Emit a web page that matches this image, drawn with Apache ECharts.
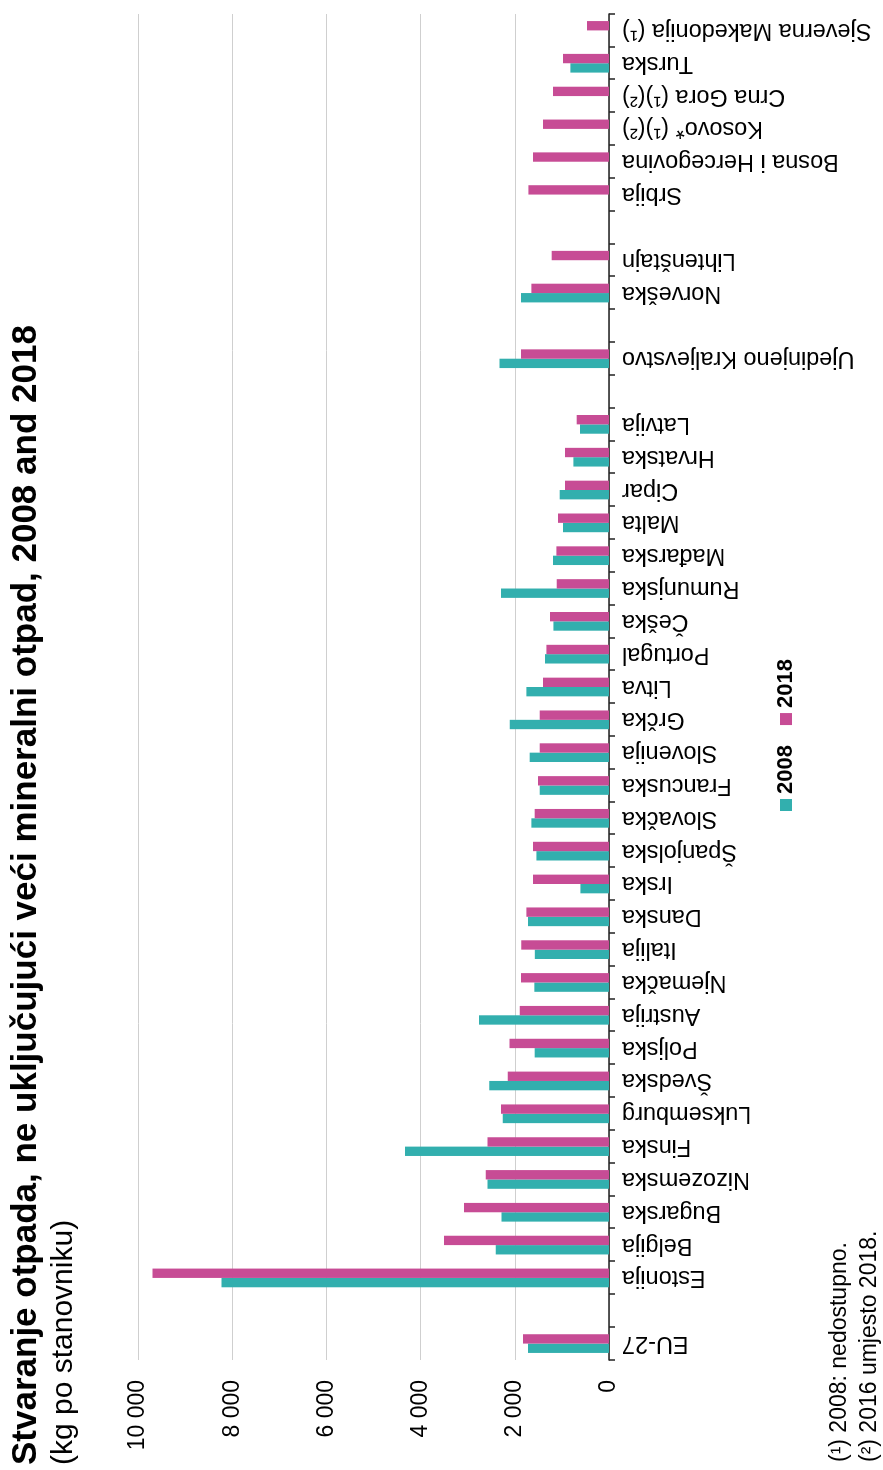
<!DOCTYPE html>
<html><head><meta charset="utf-8">
<script src="https://cdn.jsdelivr.net/npm/echarts/dist/echarts.min.js"></script>
<style>
html,body{margin:0;padding:0;width:883px;height:1470px;overflow:hidden;background:#fff}
#wrap{position:absolute;left:0;top:0;width:1470px;height:883px;transform-origin:0 0;transform:translateY(1470px) rotate(-90deg);}
#chart{width:1470px;height:883px}
</style></head><body><div id="wrap"><div id="chart"></div></div>
<script>
var categories = ['EU-27', ' ', 'Estonija', 'Belgija', 'Bugarska', 'Nizozemska', 'Finska', 'Luksemburg', 'Švedska', 'Poljska', 'Austrija', 'Njemačka', 'Italija', 'Danska', 'Irska', 'Španjolska', 'Slovačka', 'Francuska', 'Slovenija', 'Grčka', 'Litva', 'Portugal', 'Češka', 'Rumunjska', 'Mađarska', 'Malta', 'Cipar', 'Hrvatska', 'Latvija', '  ', 'Ujedinjeno Kraljevstvo', '   ', 'Norveška', 'Lihtenštajn', '    ', 'Srbija', 'Bosna i Hercegovina', 'Kosovo* (¹)(²)', 'Crna Gora (¹)(²)', 'Turska', 'Sjeverna Makedonija (¹)'];
var values2008 = [1720, '-', 8229, 2405, 2285, 2582, 4331, 2257, 2540, 1578, 2760, 1585, 1575, 1720, 607, 1541, 1648, 1471, 1684, 2108, 1754, 1359, 1180, 2293, 1189, 977, 1047, 756, 616, '-', 2327, '-', 1868, '-', '-', '-', '-', '-', '-', 820, '-'];
var values2018 = [1826, '-', 9694, 3503, 3078, 2618, 2582, 2293, 2151, 2115, 1896, 1868, 1865, 1754, 1614, 1614, 1578, 1507, 1471, 1471, 1401, 1329, 1253, 1110, 1117, 1083, 934, 934, 686, '-', 1868, '-', 1648, 1217, '-', 1711, 1614, 1401, 1189, 977, 467];
var seriesNames = ['2008', '2018'];
var titleText = 'Stvaranje otpada, ne uključujući veći mineralni otpad, 2008 and 2018';
var subtitleText = '(kg po stanovniku)';
var footnoteText = '(¹) 2008: nedostupno.\n(²) 2016 umjesto 2018.';

var FONT = '"Liberation Sans", Arial, sans-serif';
var chart = echarts.init(document.getElementById('chart'), null, {renderer: 'canvas'});
chart.setOption({
  animation: false,
  backgroundColor: '#fff',
  textStyle: {fontFamily: FONT},
  title: [
    {text: titleText, left: 5, top: 9, padding: 0,
     textStyle: {fontFamily: FONT, fontSize: 35, fontWeight: 'bold', color: '#000'}},
    {text: subtitleText, left: 5, top: 49, padding: 0,
     textStyle: {fontFamily: FONT, fontSize: 30, fontWeight: 'normal', color: '#000'}},
    {text: footnoteText, left: 8, top: 825, padding: 0,
     textStyle: {fontFamily: FONT, fontSize: 23, lineHeight: 30, fontWeight: 'normal', color: '#000'}}
  ],
  legend: {
    data: seriesNames, left: 659, top: 775, padding: 0,
    itemWidth: 12, itemHeight: 12, itemGap: 20, icon: 'rect',
    textStyle: {fontFamily: FONT, fontSize: 22, fontWeight: 'bold', color: '#000'}
  },
  grid: {left: 110, right: 14, top: 138, bottom: 274, containLabel: false, outerBoundsMode: 'none'},
  xAxis: {
    type: 'category', data: categories, boundaryGap: true,
    axisLine: {show: true, lineStyle: {color: '#222', width: 1.5}},
    axisTick: {show: true, interval: 0, length: 6, lineStyle: {color: '#222', width: 1.5}},
    axisLabel: {interval: 0, rotate: 90, margin: 13, fontFamily: FONT, fontSize: 23.5, color: '#000'},
    splitLine: {show: false}
  },
  yAxis: {
    type: 'value', min: 0, max: 10000, interval: 2000,
    axisLine: {show: false}, axisTick: {show: false},
    axisLabel: {margin: 20, fontFamily: FONT, fontSize: 23, color: '#000',
      formatter: function (v) { return String(v).replace(/\B(?=(\d{3})+(?!\d))/g, ' '); }},
    splitLine: {show: true, lineStyle: {color: '#cfcfcf', width: 1}}
  },
  series: [
    {name: seriesNames[0], type: 'bar', data: values2008, barGap: '0%', barCategoryGap: '43%',
     itemStyle: {color: '#32afae'}},
    {name: seriesNames[1], type: 'bar', data: values2018, barGap: '0%', barCategoryGap: '43%',
     itemStyle: {color: '#c74c95'}}
  ]
});
</script></body></html>
